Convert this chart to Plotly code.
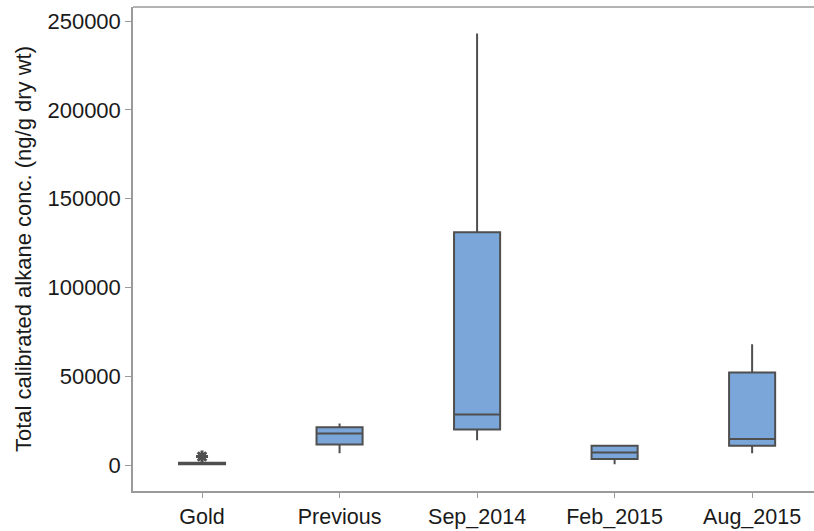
import plotly.graph_objects as go

categories = ["Gold", "Previous", "Sep_2014", "Feb_2015", "Aug_2015"]
lower_whisker = [200, 6600, 14000, 400, 6600]
q1_vals = [400, 11600, 20000, 3400, 10900]
median_vals = [800, 17800, 28500, 7100, 14600]
q3_vals = [1300, 21200, 131000, 10900, 52100]
upper_whisker = [1700, 23400, 243000, 10900, 68000]
outlier_cats = ["Gold"]
outlier_vals = [4800]
y_ticks = [0, 50000, 100000, 150000, 200000, 250000]

fig = go.Figure()
fig.add_trace(go.Box(
    x=categories, q1=q1_vals, median=median_vals, q3=q3_vals,
    lowerfence=lower_whisker, upperfence=upper_whisker,
    fillcolor="#7AA6DA", line=dict(color="#4f4f4f", width=2),
    width=0.335, whiskerwidth=0, boxpoints=False, showlegend=False, hoverinfo="skip",
))
fig.add_trace(go.Scatter(
    x=outlier_cats, y=outlier_vals, mode="markers",
    marker=dict(symbol="asterisk-open", size=10, color="#4f4f4f",
                line=dict(color="#4f4f4f", width=3)),
    showlegend=False,
))

fam = "Liberation Sans, Arial, sans-serif"
fig.update_layout(
    width=814, height=531,
    margin=dict(l=133, r=0, t=7, b=40),
    plot_bgcolor="white", paper_bgcolor="white",
    font=dict(family=fam, size=21, color="#1a1a1a"),
    shapes=[dict(type="line", xref="paper", yref="paper", x0=0, x1=1, y0=1, y1=1,
                 line=dict(color="#9a9a9a", width=1.5))],
)
fig.update_xaxes(
    type="category", categoryorder="array", categoryarray=categories,
    range=[-0.502, 4.45],
    showline=True, linecolor="#9a9a9a", linewidth=1.5,
    ticks="outside", ticklen=5, tickcolor="#9a9a9a", tickwidth=1,
    showgrid=False, zeroline=False,
    tickfont=dict(family=fam, size=21.5, color="#1a1a1a"),
)
fig.update_yaxes(
    range=[-14640, 257900], tickvals=y_ticks, ticktext=[str(v) for v in y_ticks],
    showline=True, linecolor="#9a9a9a", linewidth=1.5,
    ticks="outside", ticklen=6, tickcolor="#9a9a9a", tickwidth=1,
    showgrid=False, zeroline=False,
    tickfont=dict(family=fam, size=22, color="#1a1a1a"),
    title=dict(text="Total calibrated alkane conc. (ng/g dry wt)",
               font=dict(family=fam, size=22, color="#1a1a1a"),
               standoff=10),
)
fig.write_html("out.html")
